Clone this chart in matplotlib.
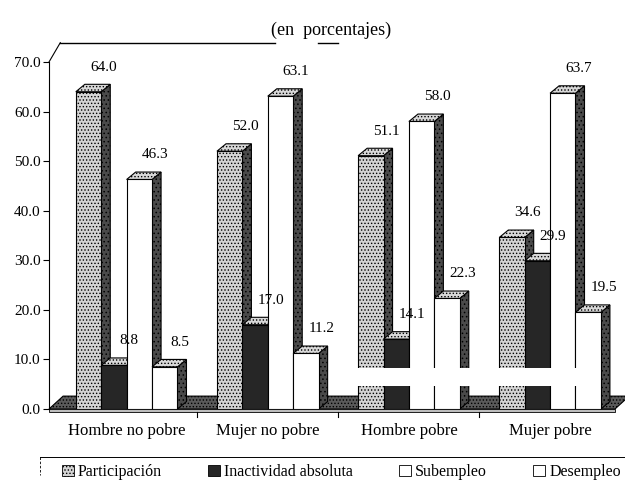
import matplotlib
matplotlib.use("Agg")
import matplotlib.pyplot as plt
from matplotlib.patches import Polygon, Patch, Rectangle
from matplotlib.lines import Line2D
import numpy as np

categories = ["Hombre no pobre", "Mujer no pobre", "Hombre pobre", "Mujer pobre"]
series_names = ["Participación", "Inactividad absoluta", "Subempleo", "Desempleo"]
participacion = [64.0, 52.0, 51.1, 34.6]
inactividad = [8.8, 17.0, 14.1, 29.9]
subempleo = [46.3, 63.1, 58.0, 63.7]
desempleo = [8.5, 11.2, 22.3, 19.5]
yticks = [0, 10, 20, 30, 40, 50, 60, 70]

values = [participacion, inactividad, subempleo, desempleo]

plt.rcParams['font.family'] = ['Liberation Serif', 'DejaVu Serif']
plt.rcParams['hatch.linewidth'] = 0.6

fig = plt.figure(figsize=(6.25, 4.8), dpi=100)
ax = fig.add_axes([49/625, 1-409/480, (615-49)/625, (409-62)/480])
ax.set_xlim(-0.55, 3.46)
ax.set_ylim(0, 70)

w = 0.18
dx = 0.064
dy = 1.5

front_fc = ['#d4d4d4', '#262626', 'white', 'white']
front_hatch = ['.....', '', None, None]
side_fc = '#4a4a4a'
top_fc = '#d8d8d8'

xs = np.arange(len(categories))
# floor
xl, xr = ax.get_xlim()
dxF, dyF = 0.1, 2.6
floor = Polygon([(xl, 0), (xr, 0), (xr + dxF, dyF), (xl + dxF, dyF)], closed=True,
                facecolor='#5a5a5a', edgecolor='black', hatch='.....', lw=0.8,
                zorder=1, clip_on=False)
ax.add_patch(floor)
strip = Polygon([(xl, 0), (xr, 0), (xr, -0.6), (xl, -0.6)], closed=True,
                facecolor='#bdbdbd', edgecolor='black', lw=0.6, zorder=1.1, clip_on=False)
ax.add_patch(strip)

for s, vals in enumerate(values):
    pos = xs + (s - 1.5) * w
    bars = ax.bar(pos, vals, width=w, color=front_fc[s], edgecolor='black',
                  linewidth=0.8, hatch=front_hatch[s])
    for c, b in enumerate(bars):
        k = c * 4 + s
        zb = 2 + k * 0.01
        b.set_zorder(zb + 0.005)
        x0 = b.get_x()
        x1 = x0 + b.get_width()
        h = b.get_height()
        side = Polygon([(x1, 0), (x1 + dx, dy), (x1 + dx, h + dy), (x1, h)], closed=True,
                       facecolor=side_fc, edgecolor='black', hatch='....', lw=0.8,
                       zorder=zb, clip_on=False)
        top = Polygon([(x0, h), (x1, h), (x1 + dx, h + dy), (x0 + dx, h + dy)], closed=True,
                      facecolor=top_fc, edgecolor='black', hatch='.....', lw=0.8,
                      zorder=zb, clip_on=False)
        ax.add_patch(side)
        ax.add_patch(top)
        ax.annotate(f"{h:.1f}", (x1 + dx * 0.3, h), xytext=(0, 13), textcoords='offset points',
                    ha='center', va='bottom', fontsize=11, zorder=10, clip_on=False,
                    annotation_clip=False)

# back wall edges
dxW, dyW = 0.08, 3.9
ax.plot([xl, xl + dxW], [70, 70 + dyW], color='black', lw=0.8, clip_on=False)
ax.plot([xl + dxW, 1.05], [70 + dyW, 70 + dyW], color='black', lw=1.0, clip_on=False)
ax.plot([1.355, 1.496], [70 + dyW, 70 + dyW], color='black', lw=1.0, clip_on=False)

for sp in ['top', 'right']:
    ax.spines[sp].set_visible(False)
ax.spines['left'].set_linewidth(0.8)
ax.spines['bottom'].set_visible(False)
ax.set_yticks(yticks)
ax.set_yticklabels([f"{v:.1f}" for v in yticks], fontsize=11)
ax.tick_params(axis='y', length=4, width=0.8, pad=2)
ax.set_xticks(xs)
ax.set_xticklabels(categories, fontsize=12)
ax.tick_params(axis='x', length=0, pad=10)
for b in [0.5, 1.5, 2.5]:
    ax.plot([b, b], [-0.6, -1.6], color='black', lw=0.8, clip_on=False)

# scan artifact band
fig.patches.append(Rectangle((330/625, 1-386/480), 270/625, 18/480, transform=fig.transFigure,
                             facecolor='white', edgecolor='none', zorder=50))

fig.text(0.530, 1-30/480, "(en  porcentajes)", ha='center', va='center', fontsize=13)

# legend
handles = [Patch(facecolor=front_fc[0], edgecolor='black', hatch='.....', lw=0.6),
           Patch(facecolor=front_fc[1], edgecolor='black', lw=0.6),
           Patch(facecolor='white', edgecolor='black', lw=0.6),
           Patch(facecolor='white', edgecolor='black', lw=0.6)]
fig.legend(handles, series_names, loc='center left', bbox_to_anchor=(52/625, 1-472/480), ncol=4,
           frameon=False, fontsize=11.5, handlelength=0.75, handleheight=0.75,
           handletextpad=0.25, columnspacing=2.9, borderpad=0.1)
fig.add_artist(Line2D([40/625, 1.0], [1-457/480, 1-457/480], transform=fig.transFigure,
                      color='black', lw=0.7))
fig.add_artist(Line2D([40/625, 40/625], [1-457/480, 1-475/480], transform=fig.transFigure,
                      color='black', lw=0.6, ls=(0, (3, 2))))

fig.savefig("out.png", dpi=100)
